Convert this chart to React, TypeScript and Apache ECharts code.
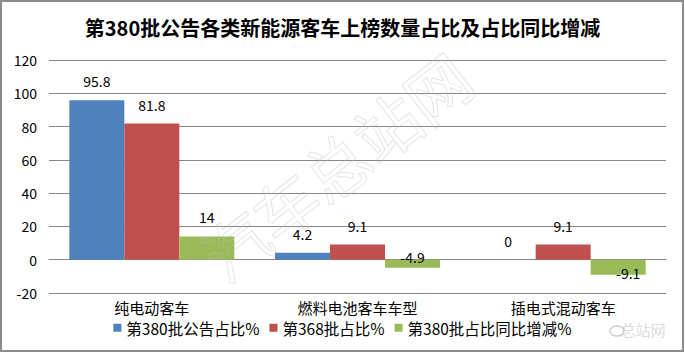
import React, { useEffect, useRef } from "react";
import * as echarts from "echarts";

const categories = ["纯电动客车", "燃料电池客车车型", "插电式混动客车"];
const seriesNames = ["第380批公告占比%", "第368批占比%", "第380批占比同比增减%"];
const share380 = [95.8, 4.2, 0];
const share368 = [81.8, 9.1, 9.1];
const changeYoY = [14, -4.9, -9.1];
const yTicks = { min: -20, max: 120, interval: 20 };

const colors = ["#4F81BD", "#C0504D", "#9BBB59"];
const FONT = "'Noto Sans CJK SC', 'Noto Sans', sans-serif";

export default function App() {
  const ref = useRef<HTMLDivElement>(null);
  useEffect(() => {
    if (!ref.current) return;
    const chart = echarts.init(ref.current, null, { renderer: "svg" });
    const labelBase = {
      show: true,
      position: "top",
      distance: 12,
      color: "#000",
      fontSize: 14,
      fontFamily: FONT,
    };
    const negLabel = (v: number, i: number) => {
      if (v >= 0) return v;
      const offsets = [[0, 0], [0, -7], [10, 6]];
      return { value: v, label: { position: "inside", offset: offsets[i] } };
    };
    chart.setOption({
      animation: false,
      backgroundColor: "#fff",
      color: colors,
      title: {
        text: "第380批公告各类新能源客车上榜数量占比及占比同比增减",
        left: "center",
        top: 12,
        textStyle: { fontSize: 20, fontWeight: "bold", color: "#000", fontFamily: FONT },
      },
      grid: { left: 49, right: 19, top: 60, bottom: 60, containLabel: false },
      legend: {
        left: "center",
        top: 315,
        itemWidth: 8,
        itemHeight: 8,
        itemGap: 10,
        icon: "rect",
        textStyle: { fontSize: 15.5, color: "#000", fontFamily: FONT },
        data: seriesNames,
      },
      xAxis: {
        type: "category",
        data: categories,
        axisLine: { show: true, onZero: true, lineStyle: { color: "#878787", width: 1 } },
        axisTick: { show: false },
        axisLabel: { color: "#000", fontSize: 15, fontFamily: FONT, margin: 7 },
      },
      yAxis: {
        type: "value",
        min: yTicks.min,
        max: yTicks.max,
        interval: yTicks.interval,
        axisLine: { show: false },
        axisTick: { show: false },
        splitLine: { lineStyle: { color: "#878787", width: 1 } },
        axisLabel: { color: "#000", fontSize: 14, fontFamily: FONT, margin: 12 },
      },
      series: [
        { name: seriesNames[0], type: "bar", data: share380, barWidth: 55, barGap: "0%", label: labelBase },
        { name: seriesNames[1], type: "bar", data: share368, barWidth: 55, barGap: "0%", label: labelBase },
        {
          name: seriesNames[2],
          type: "bar",
          data: changeYoY.map(negLabel),
          barWidth: 55,
          barGap: "0%",
          label: labelBase,
        },
      ],
      graphic: [
        {
          type: "text",
          x: 335,
          y: 165,
          rotation: (38 * Math.PI) / 180,
          z: 100,
          silent: true,
          style: {
            text: "汽车总站网",
            fontSize: 64,
            fontFamily: FONT,
            fill: "rgba(255,255,255,0)",
            stroke: "rgba(190,190,190,0.4)",
            lineWidth: 1,
            align: "center",
            verticalAlign: "middle",
          },
        },
        {
          type: "text",
          x: 643,
          y: 329,
          z: 100,
          silent: true,
          style: {
            text: "总站网",
            fontSize: 15,
            fontFamily: FONT,
            fill: "rgba(215,215,215,0.9)",
            stroke: "rgba(255,255,255,0.9)",
            lineWidth: 1,
            align: "center",
            verticalAlign: "middle",
          },
        },
        {
          type: "ellipse",
          z: 100,
          silent: true,
          shape: { cx: 617, cy: 331, rx: 7, ry: 5 },
          style: { fill: "none", stroke: "rgba(200,200,200,0.9)", lineWidth: 1.5 },
        },
        {
          type: "rect",
          z: 101,
          silent: true,
          shape: { x: 1, y: 1, width: 682, height: 350 },
          style: { fill: "none", stroke: "#8c8c8c", lineWidth: 2 },
        },
      ],
    });
    return () => chart.dispose();
  }, []);
  return (
    <div
      ref={ref}
      style={{ position: "fixed", left: 0, top: 0, width: 685, height: 353 }}
    />
  );
}
